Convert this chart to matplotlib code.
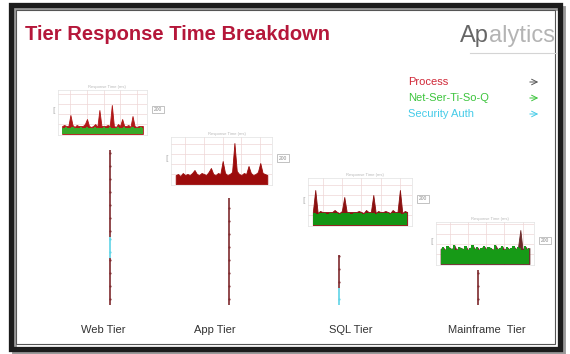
import matplotlib.pyplot as plt
from matplotlib.patches import Rectangle

plt.rcParams['font.family'] = ['Liberation Sans', 'DejaVu Sans']

W, H = 570, 354

tier_names = ["Web Tier", "App Tier", "SQL Tier", "Mainframe  Tier"]

# per-sample response time in each tier's mini chart (ms)
web_net = [6, 6, 7, 6, 6, 7, 6, 6, 6, 7, 6, 6, 7, 6, 6, 6, 7, 6, 6, 6,
           7, 6, 6, 7, 6, 6, 6, 7, 6, 6, 7, 6, 6, 6, 7, 6, 6, 6, 7, 6]
web_proc = [2, 3, 1, 2, 13, 2, 1, 3, 2, 1, 2, 4, 8, 2, 1, 2, 3, 1, 18, 2,
            1, 2, 3, 1, 23, 2, 1, 3, 2, 9, 1, 2, 3, 1, 11, 2, 1, 2, 1, 2]

app_net = [0] * 40
app_proc = [9, 10, 8, 11, 9, 10, 9, 11, 14, 10, 9, 11, 10, 9, 12, 16, 10, 9, 11, 10,
            23, 11, 9, 10, 12, 41, 13, 10, 9, 11, 10, 18, 11, 9, 10, 12, 21, 11, 10, 9]

sql_net = [12, 12, 11, 12, 12, 12, 11, 12, 12, 12, 12, 11, 12, 12, 12, 12, 11, 12, 12, 12,
           12, 11, 12, 12, 12, 12, 11, 12, 12, 12, 12, 12, 11, 12, 12, 12, 12, 11, 12, 12]
sql_proc = [1, 23, 1, 2, 1, 1, 2, 1, 1, 3, 1, 1, 2, 16, 1, 1, 2, 1, 1, 2,
            1, 1, 3, 1, 1, 18, 1, 2, 1, 1, 2, 1, 1, 3, 1, 1, 23, 1, 2, 1]

mf_net = [15, 17, 14, 18, 16, 15, 19, 14, 17, 16, 15, 18, 14, 16, 19, 15, 17, 14, 16, 18,
          15, 17, 16, 14, 19, 15, 16, 18, 14, 17, 15, 16, 18, 15, 17, 16, 14, 18, 15, 16]
mf_proc = [0, 0, 0, 0, 0, 0, 0, 0, 0, 0, 0, 0, 0, 0, 0, 0, 0, 0, 0, 0,
           0, 0, 0, 0, 0, 0, 0, 0, 0, 0, 0, 0, 0, 0, 0, 18, 0, 0, 0, 0]

# time breakdown along each tier's drop line, bottom-up (ms)
web_stack = [("Process", 47), ("Security Auth", 21), ("Process", 87)]
app_stack = [("Process", 107)]
sql_stack = [("Security Auth", 17), ("Process", 33)]
mf_stack = [("Process", 35)]

legend_names = ["Process", "Net-Ser-Ti-So-Q", "Security Auth"]
colors = {"Process": "#d02838", "Net-Ser-Ti-So-Q": "#3cc43c", "Security Auth": "#45cbe8"}
line_colors = {"Process": "#7e2a2e", "Security Auth": "#5fd3e6"}

# layout: chart boxes in pixels (left, top, right, bottom), drop-line x, label x
chart_boxes = [(58, 90, 147, 135), (171, 137, 272, 185), (308, 178, 412, 226), (436, 222, 534, 265)]
proc_colors = ["#b01818", "#9c0c0c", "#8a1010", "#6b2a2a"]
net_colors = ["#38a828", "#9c0c0c", "#149414", "#179a17"]
line_x = [110, 229, 339, 478]
label_x = [103, 215, 351, 487]
base_y = 305

fig = plt.figure(figsize=(W / 100, H / 100), dpi=100)
ax = fig.add_axes([0, 0, 1, 1])
ax.set_xlim(0, W)
ax.set_ylim(H, 0)
ax.axis('off')

# frame with a soft shadow
ax.add_patch(Rectangle((14, 8), 549, 344, fill=False, ec='#9a9a9a', lw=3.5))
ax.add_patch(Rectangle((11, 5), 549, 344, fill=False, ec='#1c1c1c', lw=3.8))
ax.add_patch(Rectangle((16, 10), 539, 334, fill=False, ec='#555555', lw=0.8))

ax.text(25, 35, "Tier Response Time Breakdown", fontsize=14.5, fontweight='bold',
        color='#b5173a', va='center', ha='left')

logo = ax.text(460, 36, "Ap", fontsize=17, color='#666666', va='center', ha='left')
ax.annotate("alytics", xy=(1, 0), xycoords=logo, fontsize=17, color='#b4b4b4',
            va='bottom', ha='left')
ax.plot([470, 556], [53, 53], color='#d4d4d4', lw=0.8)

for i, name in enumerate(legend_names):
    y = 82 + i * 16
    ax.text(408, y, name, fontsize=8, color=colors[name], va='center', ha='left')
    ax.annotate('', xy=(541, y), xytext=(527, y),
                arrowprops=dict(arrowstyle='->', lw=0.7,
                                color='#555555' if i == 0 else colors[name]))

series = [(web_net, web_proc), (app_net, app_proc), (sql_net, sql_proc), (mf_net, mf_proc)]
stacks = [web_stack, app_stack, sql_stack, mf_stack]

for k, ((net, proc), box) in enumerate(zip(series, chart_boxes)):
    x0, y0, x1, y1 = box
    sub = fig.add_axes([x0 / W, 1 - y1 / H, (x1 - x0) / W, (y1 - y0) / H])
    xs = list(range(len(net)))
    top = [a + b for a, b in zip(net, proc)]
    sub.fill_between(xs, 0, top, color=proc_colors[k], lw=0.6)
    sub.fill_between(xs, 0, net, color=net_colors[k], lw=0, step='mid')
    sub.set_xlim(-2, len(xs) + 1)
    sub.set_ylim(-1, y1 - y0 - 1)
    sub.set_xticks([4, 12, 20, 28, 36])
    sub.set_yticks([10, 20, 30, 40])
    sub.tick_params(length=0, labelbottom=False, labelleft=False)
    sub.grid(color='#efd6d6', lw=0.5)
    sub.set_axisbelow(True)
    for sp in sub.spines.values():
        sp.set_color('#e2e2e2')
        sp.set_linewidth(0.5)
    sub.text(0.55, 1.02, "Response Time (ms)", transform=sub.transAxes, fontsize=3,
             color='#b8b8b8', ha='center', va='bottom')
    ax.text(x1 + 11, (y0 + y1) / 2 - 3, "200", fontsize=3.5, color='#8a8a8a', ha='center',
            va='center', bbox=dict(boxstyle='square,pad=0.3', fc='white', ec='#aaaaaa', lw=0.5))
    ax.text(x0 - 4, (y0 + y1) / 2 - 2, "[", fontsize=6, color='#b0b0b0', ha='center', va='center')

    # drop line showing the tier's time breakdown
    y = base_y
    for kind, ms in stacks[k]:
        ax.plot([line_x[k]] * 2, [y, y - ms], color=line_colors[kind], lw=1.2,
                solid_capstyle='butt')
        marks = list(range(int(y) - 6, int(y - ms), -13))
        ax.plot([line_x[k]] * len(marks), marks, ls='none', marker='o', ms=1.6,
                color=line_colors[kind], mec='none', alpha=0.9)
        y -= ms

    ax.text(label_x[k], 330, tier_names[k], fontsize=8, color='#333333', ha='center', va='center')

fig.savefig("out.png", dpi=100)
